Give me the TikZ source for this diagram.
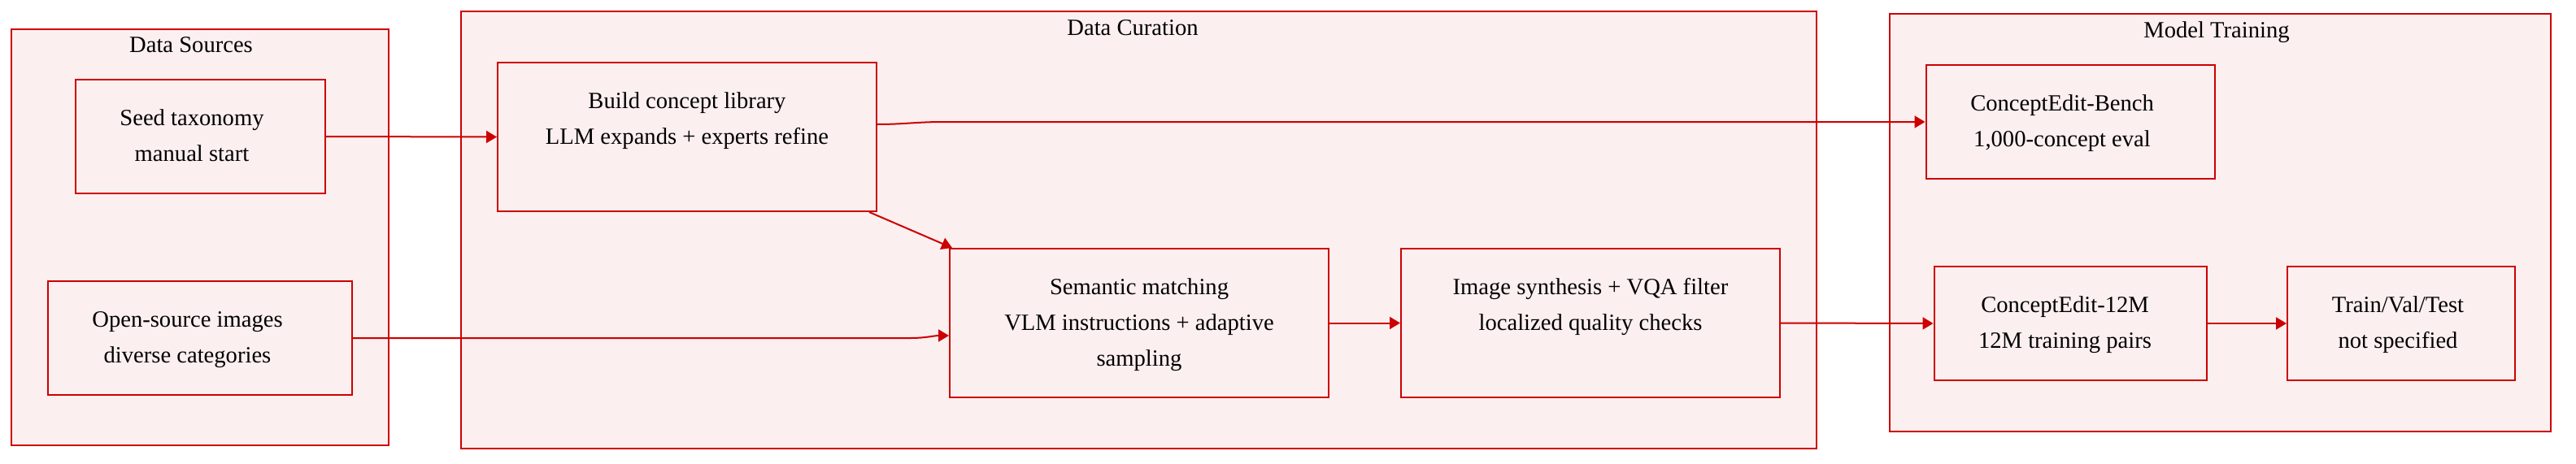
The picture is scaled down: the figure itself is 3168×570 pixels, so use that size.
\documentclass[tikz,border=0pt]{standalone}
\usepackage{fontspec}
\setmainfont{Liberation Serif}
\usetikzlibrary{arrows.meta}
\definecolor{rline}{RGB}{204,0,0}
\definecolor{pinkfill}{RGB}{252,239,239}
\begin{document}
\begin{tikzpicture}[x=1pt,y=-1pt,
  every node/.style={font=\fontsize{28.6}{44}\selectfont, text=black},
  cluster/.style={draw=rline, fill=pinkfill, line width=2pt, inner sep=0pt},
  title/.style={inner sep=0pt},
  box/.style={draw=rline, fill=pinkfill, line width=2pt, inner sep=0pt},
  lbl/.style={inner sep=0pt, align=center},
  conn/.style={draw=rline, line width=2pt, -{Triangle[length=13pt,width=15pt]}}
]
\useasboundingbox (0,0) rectangle (3168,570);
% clusters
\node[cluster, minimum width=464pt, minimum height=512pt] (csrc) at (246,292) {};
\node[cluster, minimum width=1667pt, minimum height=538pt] (ccur) at (1400.5,283) {};
\node[cluster, minimum width=813pt, minimum height=514pt] (ctrn) at (2730.5,274) {};
\node[title] (tsrc) at (235,56) {\strut Data Sources};
\node[title] (tcur) at (1393,35) {\strut Data Curation};
\node[title] (ttrn) at (2726,38) {\strut Model Training};
% boxes
\node[box, minimum width=307pt, minimum height=140pt] (seed) at (246,168) {};
\node[box, minimum width=374pt, minimum height=140pt] (open) at (245.5,416) {};
\node[box, minimum width=466pt, minimum height=183pt] (build) at (845,168.5) {};
\node[box, minimum width=466pt, minimum height=183pt] (sem) at (1401,397.5) {};
\node[box, minimum width=466pt, minimum height=183pt] (img) at (1956,397.5) {};
\node[box, minimum width=355pt, minimum height=140pt] (bench) at (2546,150) {};
\node[box, minimum width=335pt, minimum height=140pt] (m12) at (2546,398) {};
\node[box, minimum width=280pt, minimum height=140pt] (train) at (2953,398) {};
% labels
\node[lbl] (seedT) at ([xshift=-10pt]seed.center) {\strut Seed taxonomy\\\strut manual start};
\node[lbl] (openT) at ([xshift=-15pt]open.center) {\strut Open-source images\\\strut diverse categories};
\node[lbl] (buildT) at (build.center) {\strut Build concept library\\\strut LLM expands + experts refine\\\strut};
\node[lbl] (semT) at (sem.center) {\strut Semantic matching\\\strut VLM instructions + adaptive\\\strut sampling};
\node[lbl] (imgT) at (img.center) {\strut Image synthesis + VQA filter\\\strut localized quality checks\\\strut};
\node[lbl] (benchT) at ([xshift=-10pt]bench.center) {\strut ConceptEdit-Bench\\\strut 1,000-concept eval};
\node[lbl] (m12T) at ([xshift=-6.5pt]m12.center) {\strut ConceptEdit-12M\\\strut 12M training pairs};
\node[lbl] (trainT) at ([xshift=-4pt]train.center) {\strut Train/Val/Test\\\strut not specified};
\coordinate (bendA) at (1160,150);
\coordinate (bendB) at (1120,416);
% connectors
\draw[conn] (seed.east) -- (build.west);
\draw[conn] ([yshift=15.5pt]build.east) to[out=0,in=180] (bendA) -- (bench.west);
\draw[conn] ([xshift=-10pt]build.south east) -- ([xshift=4pt]sem.north west);
\draw[conn] (open.east) -- (bendB) to[out=0,in=180] ([yshift=-15.5pt]sem.west);
\draw[conn] (sem.east) -- (img.west);
\draw[conn] (img.east) -- (m12.west);
\draw[conn] (m12.east) -- (train.west);
\end{tikzpicture}
\end{document}
